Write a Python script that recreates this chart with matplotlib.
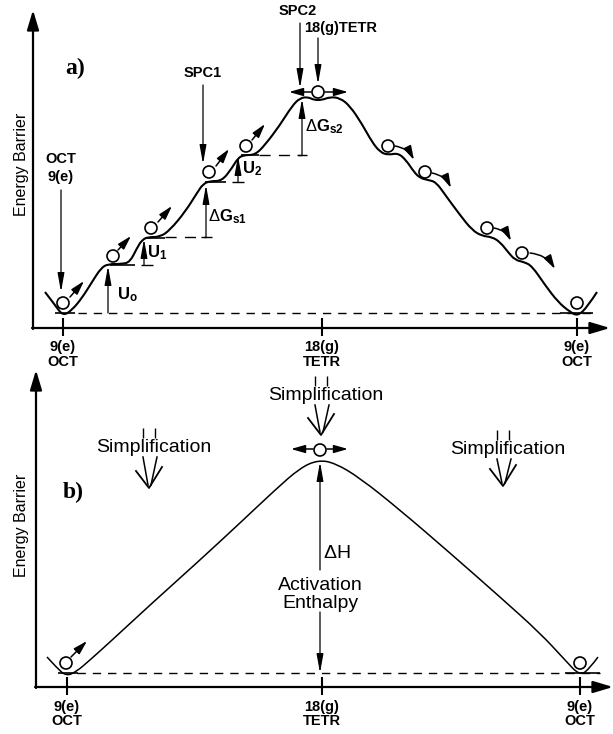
import numpy as np
import matplotlib
matplotlib.use('Agg')
import matplotlib.pyplot as plt
from matplotlib.path import Path
from matplotlib.patches import PathPatch, Circle, FancyArrowPatch

plt.rcParams['font.family'] = ['Liberation Sans', 'DejaVu Sans']
plt.rcParams['mathtext.fontset'] = 'custom'
plt.rcParams['mathtext.rm'] = 'Liberation Sans'
plt.rcParams['mathtext.bf'] = 'Liberation Sans:bold'
plt.rcParams['mathtext.it'] = 'Liberation Sans:italic'

# ---- schematic data (picture coordinates, y grows downward) ----
# panel a: energy profile control points
curve_a_x = [45, 55, 63, 72, 82, 92, 101, 108, 122, 130, 137, 142, 148, 160, 170, 185, 197, 203,
             210, 222, 232, 238, 244, 255, 265, 280, 292, 300, 308, 314, 322, 330, 340, 350, 362,
             372, 380, 388, 398, 406, 414, 420, 428, 436, 446, 460, 472, 482, 492, 500, 508, 515,
             524, 532, 545, 558, 570, 578, 588, 597]
curve_a_y = [292, 305, 316, 310, 298, 282, 268, 264, 264, 262, 248, 240, 237, 237, 230, 212, 193, 184,
             181, 181, 168, 158, 155, 155, 145, 125, 106, 98, 97, 100, 100, 97, 98, 106, 124,
             142, 152, 155, 153, 160, 172, 178, 180, 182, 196, 215, 230, 236, 237, 242, 252, 260,
             262, 266, 285, 302, 312, 316, 306, 292]
# panel b: simplified profile
curve_b_x = [47, 57, 66, 76, 90, 110, 150, 200, 240, 275, 300, 318, 335, 360, 400, 450, 500, 540,
             565, 580, 590, 598]
curve_b_y = [657, 668, 676, 672, 660, 642, 605, 560, 523, 490, 468, 460, 463, 478, 510, 553, 597, 633,
             660, 676, 668, 657]

# balls (panel a, rising side / top / falling side) and panel b
balls_a_x = [63, 113, 151, 209, 246, 318, 388, 425, 487, 522, 577]
balls_a_y = [303, 256, 228, 172, 146, 92, 146, 172, 228, 253, 303]
balls_b_x = [66, 320, 580]
balls_b_y = [663, 450, 663]

# small motion arrows, rising side (start -> tip)
up_arrows = [((70, 297), (84, 281)), ((118, 250), (131, 236)), ((158, 222), (172, 206)),
             ((216, 166), (229, 149)), ((252, 140), (265, 124))]
# falling side curved arrows
down_arrows = [((395, 146), (414, 160)), ((432, 173), (451, 188)),
               ((494, 228), (511, 241)), ((530, 253), (555, 269))]

tick_x_a = [63, 322, 577]
tick_x_b = [67, 322, 580]
tick_labels = [('9(e)', 'OCT'), ('18(g)', 'TETR'), ('9(e)', 'OCT')]

fig = plt.figure(figsize=(6.13, 7.34), dpi=100)
ax = fig.add_axes([0, 0, 1, 1])
ax.set_xlim(0, 613)
ax.set_ylim(734, 0)
ax.axis('off')


def smooth_path(xs, ys):
    pts = list(zip(xs, ys))
    verts = [pts[0]]
    codes = [Path.MOVETO]
    for i in range(1, len(pts) - 2):
        mid = ((pts[i][0] + pts[i + 1][0]) / 2, (pts[i][1] + pts[i + 1][1]) / 2)
        verts += [pts[i], mid]
        codes += [Path.CURVE3, Path.CURVE3]
    verts += [pts[-2], pts[-1]]
    codes += [Path.CURVE3, Path.CURVE3]
    return Path(verts, codes)


def arrow(p0, p1, lw=1.0, hl=0.7, hw=0.2, both=False, rad=0.0, scale=12):
    style = '<|-|>' if both else '-|>'
    a = FancyArrowPatch(p0, p1, arrowstyle=f'{style},head_length={hl},head_width={hw}',
                        connectionstyle=f'arc3,rad={rad}', mutation_scale=scale,
                        lw=lw, color='k', shrinkA=0, shrinkB=0)
    ax.add_patch(a)


def hline(x0, x1, y, lw=1.2, ls='-'):
    ax.plot([x0, x1], [y, y], color='k', lw=lw, ls=ls, solid_capstyle='butt')


def vline(x, y0, y1, lw=1.2):
    ax.plot([x, x], [y0, y1], color='k', lw=lw, solid_capstyle='butt')


lab = dict(fontsize=10.5, fontweight='bold', ha='center', va='center')
small = dict(lw=1.1, hl=0.7, hw=0.2)
pointer = dict(lw=0.9, hl=0.95, hw=0.17)

# ================= panel a =================
arrow((33, 329), (33, 10), lw=1.6, hl=1.0, hw=0.3)
arrow((32, 328), (610, 328), lw=1.6, hl=1.0, hw=0.3)
for x, (l1, l2) in zip(tick_x_a, tick_labels):
    vline(x, 318, 336, lw=1.5)
    ax.text(x, 347, l1, **lab)
    ax.text(x, 362, l2, **lab)
hline(78, 593, 313, lw=1.0, ls=(0, (6, 5)))
ax.add_patch(PathPatch(smooth_path(curve_a_x, curve_a_y), fc='none', ec='k', lw=1.5))

# shelves
hline(55, 75, 313)
hline(110, 135, 265)
hline(145, 165, 238)
hline(205, 226, 182)
hline(241, 259, 155)
hline(560, 593, 313)

for x, y in zip(balls_a_x, balls_a_y):
    ax.add_patch(Circle((x, y), 6, fc='white', ec='k', lw=1.2, zorder=5))
for p0, p1 in up_arrows:
    arrow(p0, p1, **small)
for p0, p1 in down_arrows:
    arrow(p0, p1, rad=-0.25, **small)
arrow((311, 92), (289, 92), **small)
arrow((325, 92), (348, 92), **small)

# label arrows
arrow((61, 190), (61, 292), **pointer)
ax.text(61, 159, 'OCT', **lab)
ax.text(61, 177, '9(e)', **lab)
arrow((203, 85), (203, 164), **pointer)
ax.text(203, 73, 'SPC1', **lab)
arrow((300, 23), (300, 88), **pointer)
ax.text(298, 11, 'SPC2', **lab)
arrow((318, 38), (318, 84), **pointer)
ax.text(304, 28, '18(g)TETR', fontsize=10.5, fontweight='bold', ha='left', va='center')

# barrier arrows
arrow((108, 313), (108, 266), **pointer)
ax.text(117, 295, r'$\mathbf{U}_{\mathbf{o}}$', fontsize=12, ha='left', va='center')
hline(141, 153, 265, lw=1.0)
arrow((144, 265), (144, 239), **pointer)
ax.text(147, 253, r'$\mathbf{U}_{\mathbf{1}}$', fontsize=12, ha='left', va='center')
hline(165, 206, 237, lw=1.0, ls=(0, (8, 6)))
hline(201, 212, 237, lw=1.0)
arrow((206, 237), (206, 185), **pointer)
ax.text(208, 217, r'$\Delta\mathbf{G}_{\mathbf{s1}}$', fontsize=12, ha='left', va='center')
hline(232, 244, 182, lw=1.0)
arrow((238, 182), (238, 156), **pointer)
ax.text(242, 169, r'$\mathbf{U}_{\mathbf{2}}$', fontsize=12, ha='left', va='center')
hline(259, 302, 155, lw=1.0, ls=(0, (8, 6)))
hline(297, 307, 155, lw=1.0)
arrow((302, 155), (302, 99), **pointer)
ax.text(305, 127, r'$\Delta\mathbf{G}_{\mathbf{s2}}$', fontsize=12, ha='left', va='center')

ax.text(75, 68, 'a)', fontsize=17, fontweight='bold', family='Liberation Serif',
        ha='center', va='center')
ax.text(22, 164, 'Energy Barrier', fontsize=11.5, rotation=90, ha='center', va='center')

# ================= panel b =================
arrow((36, 688), (36, 370), lw=1.6, hl=1.0, hw=0.3)
arrow((35, 687), (613, 687), lw=1.6, hl=1.0, hw=0.3)
for x, (l1, l2) in zip(tick_x_b, tick_labels):
    vline(x, 677, 695, lw=1.5)
    ax.text(x, 707, l1, **lab)
    ax.text(x, 721, l2, **lab)
hline(77, 600, 673, lw=1.0, ls=(0, (6, 5)))
hline(58, 78, 673)
hline(565, 600, 673)
ax.add_patch(PathPatch(smooth_path(curve_b_x, curve_b_y), fc='none', ec='k', lw=1.1))
for x, y in zip(balls_b_x, balls_b_y):
    ax.add_patch(Circle((x, y), 6, fc='white', ec='k', lw=1.2, zorder=5))
arrow((71, 657), (87, 641), **small)
arrow((313, 449), (291, 449), **small)
arrow((327, 449), (348, 449), **small)

# activation enthalpy
arrow((320, 570), (320, 462), **pointer)
arrow((320, 612), (320, 673), **pointer)
ax.text(323, 553, r'$\Delta$H', fontsize=14, ha='left', va='center')
ax.text(320, 585, 'Activation', fontsize=14, ha='center', va='center')
ax.text(320, 603, 'Enthalpy', fontsize=14, ha='center', va='center')

# simplification marks
for cx, ty, tip in [(149, 447, 488), (321, 395, 435), (503, 449, 486)]:
    ax.text(cx + 5, ty, 'Simplification', fontsize=14, ha='center', va='center')
    vline(cx - 6, ty - 19, ty - 9, lw=1.0)
    vline(cx + 6, ty - 19, ty - 9, lw=1.0)
    ax.plot([cx - 6, cx - 1], [ty + 10, tip - 3], color='k', lw=1.1)
    ax.plot([cx + 8, cx + 2], [ty + 10, tip - 3], color='k', lw=1.1)
    ax.plot([cx - 13, cx, cx + 13], [tip - 17, tip, tip - 21], color='k', lw=1.3)

ax.text(73, 492, 'b)', fontsize=17, fontweight='bold', family='Liberation Serif',
        ha='center', va='center')
ax.text(22, 525, 'Energy Barrier', fontsize=11.5, rotation=90, ha='center', va='center')

fig.savefig('out.png', dpi=100)
